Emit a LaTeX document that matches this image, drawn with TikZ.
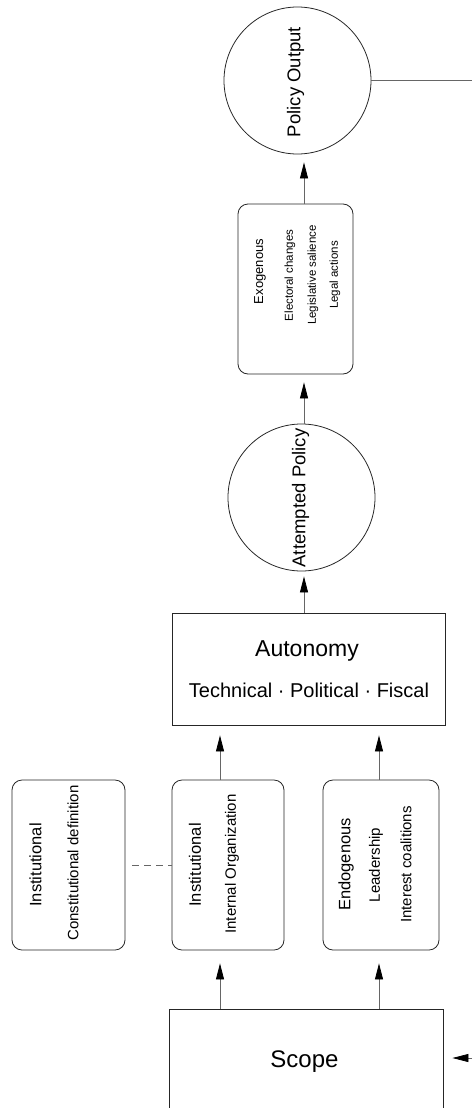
\documentclass[tikz,border=0pt]{standalone}
\usepackage{fontspec}
\setmainfont{Liberation Sans}
\usetikzlibrary{arrows.meta}
\begin{document}
\begin{tikzpicture}[x=1pt,y=-1pt,
  outl/.style={draw=black!85, line width=0.8pt},
  rbox/.style={outl, rectangle, rounded corners=10pt, inner sep=0pt},
  sbox/.style={outl, rectangle, inner sep=0pt},
  circ/.style={outl, circle, inner sep=0pt, minimum size=147pt},
  conn/.style={draw=black!60, line width=0.8pt},
  arr/.style={conn, -{Triangle[length=16pt,width=8pt,color=black]}},
  txt/.style={inner sep=0pt, text=black},
  rt/.style={txt, rotate=90},
  ftitle/.style={font=\fontsize{16.5}{18}\selectfont},
  fsub/.style={font=\fontsize{15}{17}\selectfont},
  fcirc/.style={font=\fontsize{18.5}{20}\selectfont},
]
\useasboundingbox (0,0) rectangle (472,1108);
\clip (0,0) rectangle (472,1108);

% column coordinates
\coordinate (colM) at (304,0);
\coordinate (colL) at (220,0);
\coordinate (colR) at (379,0);
\coordinate (edgeR) at (472,0);
\coordinate (inR) at (472,1058);

% Policy Output
\node[circ] (po) at (297.5,80.5) {};
\node[rt, fcirc] (pot) at (295.5,82) {Policy Output};

% Exogenous
\node[rbox, minimum width=115pt, minimum height=170pt] (exo) at (295.5,289) {};
\node[rt, font=\fontsize{13}{15}\selectfont] (exo1) at (260,271.5) {Exogenous};
\node[rt, font=\fontsize{11.5}{13}\selectfont] (exo2) at (290,275.5) {Electoral changes};
\node[rt, font=\fontsize{11.5}{13}\selectfont] (exo3) at (313,275) {Legislative salience};
\node[rt, font=\fontsize{11.5}{13}\selectfont] (exo4) at (335,275) {Legal actions};

% Attempted Policy
\node[circ] (ap) at (301.5,497.5) {};
\node[rt, fcirc] (apt) at (300.5,498) {Attempted Policy};

% Autonomy
\node[sbox, minimum width=273pt, minimum height=112pt] (aut) at (308.5,669) {};
\node[txt, anchor=base, font=\fontsize{23}{25}\selectfont] (aut1) at (307,656) {Autonomy};
\node[txt, anchor=base, font=\fontsize{20}{22}\selectfont] (aut2) at (309,697) {Technical · Political · Fiscal};

% lower boxes
\node[rbox, minimum width=113pt, minimum height=170pt] (b1) at (68.5,865) {};
\node[rt, ftitle] (b1a) at (35.5,865) {Institutional};
\node[rt, fsub] (b1b) at (73,863) {Constitutional definition};

\node[rbox, minimum width=112pt, minimum height=170pt] (b2) at (228,865) {};
\node[rt, ftitle] (b2a) at (195,865) {Institutional};
\node[rt, fsub] (b2b) at (232,864) {Internal Organization};

\node[rbox, minimum width=116pt, minimum height=170pt] (b3) at (381,865) {};
\node[rt, ftitle] (b3a) at (346,864.5) {Endogenous};
\node[rt, fsub] (b3b) at (376,865) {Leadership};
\node[rt, fsub] (b3c) at (406,864.5) {Interest coalitions};

% Scope
\node[sbox, minimum width=274pt, minimum height=121pt] (sc) at (306,1069.5) {};
\node[txt, anchor=base, font=\fontsize{24}{26}\selectfont] (sct) at (304.5,1067) {Scope};

% connectors
\draw[arr, shorten >=8pt] (exo.north -| colM) -- (po.south -| colM);
\draw[arr, shorten >=8pt] (ap.north -| colM) -- (exo.south -| colM);
\draw[arr, shorten >=5pt] (aut.north -| colM) -- (ap.south -| colM);
\draw[arr, shorten >=10pt] (b2.north -| colL) -- (aut.south -| colL);
\draw[arr, shorten >=10pt] (b3.north -| colR) -- (aut.south -| colR);
\draw[arr, shorten >=13pt] (sc.north -| colL) -- (b2.south -| colL);
\draw[arr, shorten >=13pt] (sc.north -| colR) -- (b3.south -| colR);
\draw[arr, shorten >=9pt] (inR) -- (sc.east |- inR);
\draw[conn] (po.east) -- (po.east -| edgeR);
\draw[conn, dash pattern=on 7pt off 5pt, shorten <=7pt] (b1.east) -- (b2.west);
\end{tikzpicture}
\end{document}
